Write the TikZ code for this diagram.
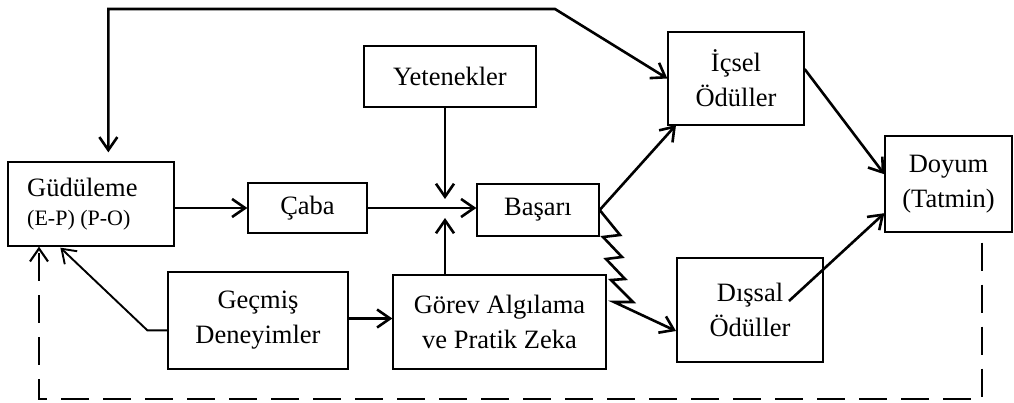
\documentclass[tikz,border=0pt]{standalone}
\usepackage{fontspec}
\setmainfont{Liberation Serif}
\usetikzlibrary{arrows.meta,calc}
\begin{document}
\begin{tikzpicture}[x=1pt,y=-1pt,
  box/.style={draw,line width=1.3pt,inner sep=0pt,align=center,
    font=\fontsize{26.5}{35}\selectfont},
  label/.style={inner sep=0pt,anchor=base west},
  arr/.style={line width=2.6pt,line join=miter,
    -{Straight Barb[length=13pt,width=18pt,line join=miter]}},
  biarr/.style={line width=2.6pt,line join=miter,
    {Straight Barb[length=13pt,width=18pt,line join=miter]}-{Straight Barb[length=13pt,width=18pt,line join=miter]}},
  feedback/.style={arr,line width=2.1pt,dash pattern=on 28pt off 14pt}]
\useasboundingbox (0,0) rectangle (1014,403);

% boxes
\node[box,minimum width=166pt,minimum height=84pt] (gud) at (91,204) {};
\node[label,font=\fontsize{26.5}{30}\selectfont] (gudt) at (27,197) {Güdüleme};
\node[label,font=\fontsize{22}{26}\selectfont] (gude) at (27,226) {(E-P) (P-O)};
\node[box,minimum width=119pt,minimum height=50pt] (caba) at (307.5,208) {Çaba};
\node[box,minimum width=172pt,minimum height=61pt] (yet) at (450,76.5) {Yetenekler};
\node[box,minimum width=122pt,minimum height=52pt] (bas) at (538,210) {Başarı};
\node[box,minimum width=180pt,minimum height=97pt] (gec) at (258,320.5) {Geçmiş\\Deneyimler};
\node[box,minimum width=213pt,minimum height=94pt] (gor) at (499.5,322) {Görev Algılama\\ve Pratik Zeka};
\node[box,minimum width=136pt,minimum height=93pt] (ic) at (736,78.5) {İçsel\\Ödüller};
\node[box,minimum width=127pt,minimum height=96pt] (doy) at (948.5,184) {Doyum\\(Tatmin)};
\node[box,minimum width=146pt,minimum height=104pt] (dis) at (750,310) {Dışsal\\Ödüller};

% junction in front of Başarı
\coordinate (jt) at (445,199);
\coordinate (jb) at (445,218);

% main flow
\draw[arr] (gud.east |- caba.west) -- (caba.west);
\draw[arr] (caba.east) -- (caba.east -| bas.west);
\draw[arr] (yet.south -| jt) -- (jt);
\draw[arr] (gor.north -| jb) -- (jb);

% Başarı to the rewards
\coordinate (icin) at (676,125);
\draw[arr] (bas.east) -- (icin);
\coordinate (disin) at (676,331);
\draw[arr] (bas.east) -- (620,235) -- (603,237) -- (622,257) -- (606,259)
  -- (625,279) -- (611,280) -- (633,302) -- (614,302) -- (disin);

% rewards to satisfaction
\draw[arr] ($(ic.north east)!0.4!(ic.south east)$) -- ($(doy.north west)!0.4!(doy.south west)$);
\draw[arr] ($(dis.center)+(39,-9)$) -- ($(doy.north west)!0.8!(doy.south west)$);

% past experience
\coordinate (gecw) at ($(gec.north west)!0.6!(gec.south west)$);
\draw[arr,line width=1.9pt] (gecw) -- ++(-20,0) -- ($(gud.south west)+(53,1)$);
\draw[arr] ([yshift=2pt]gec.east) -- ([yshift=2pt]gec.east -| gor.west);

% loop between motivation and intrinsic rewards
\coordinate (topl) at ($(gud.north west)+(101,-9)$);
\coordinate (topk) at (555,9);
\draw[biarr] (topl) -- (topl |- topk) -- (topk) -- (ic.west);

% dashed feedback from satisfaction
\coordinate (ds) at ($(doy.south west)+(98,10)$);
\coordinate (lb) at (39,399);
\draw[feedback] (ds) |- (lb) -- (lb |- gud.south);
\end{tikzpicture}
\end{document}
